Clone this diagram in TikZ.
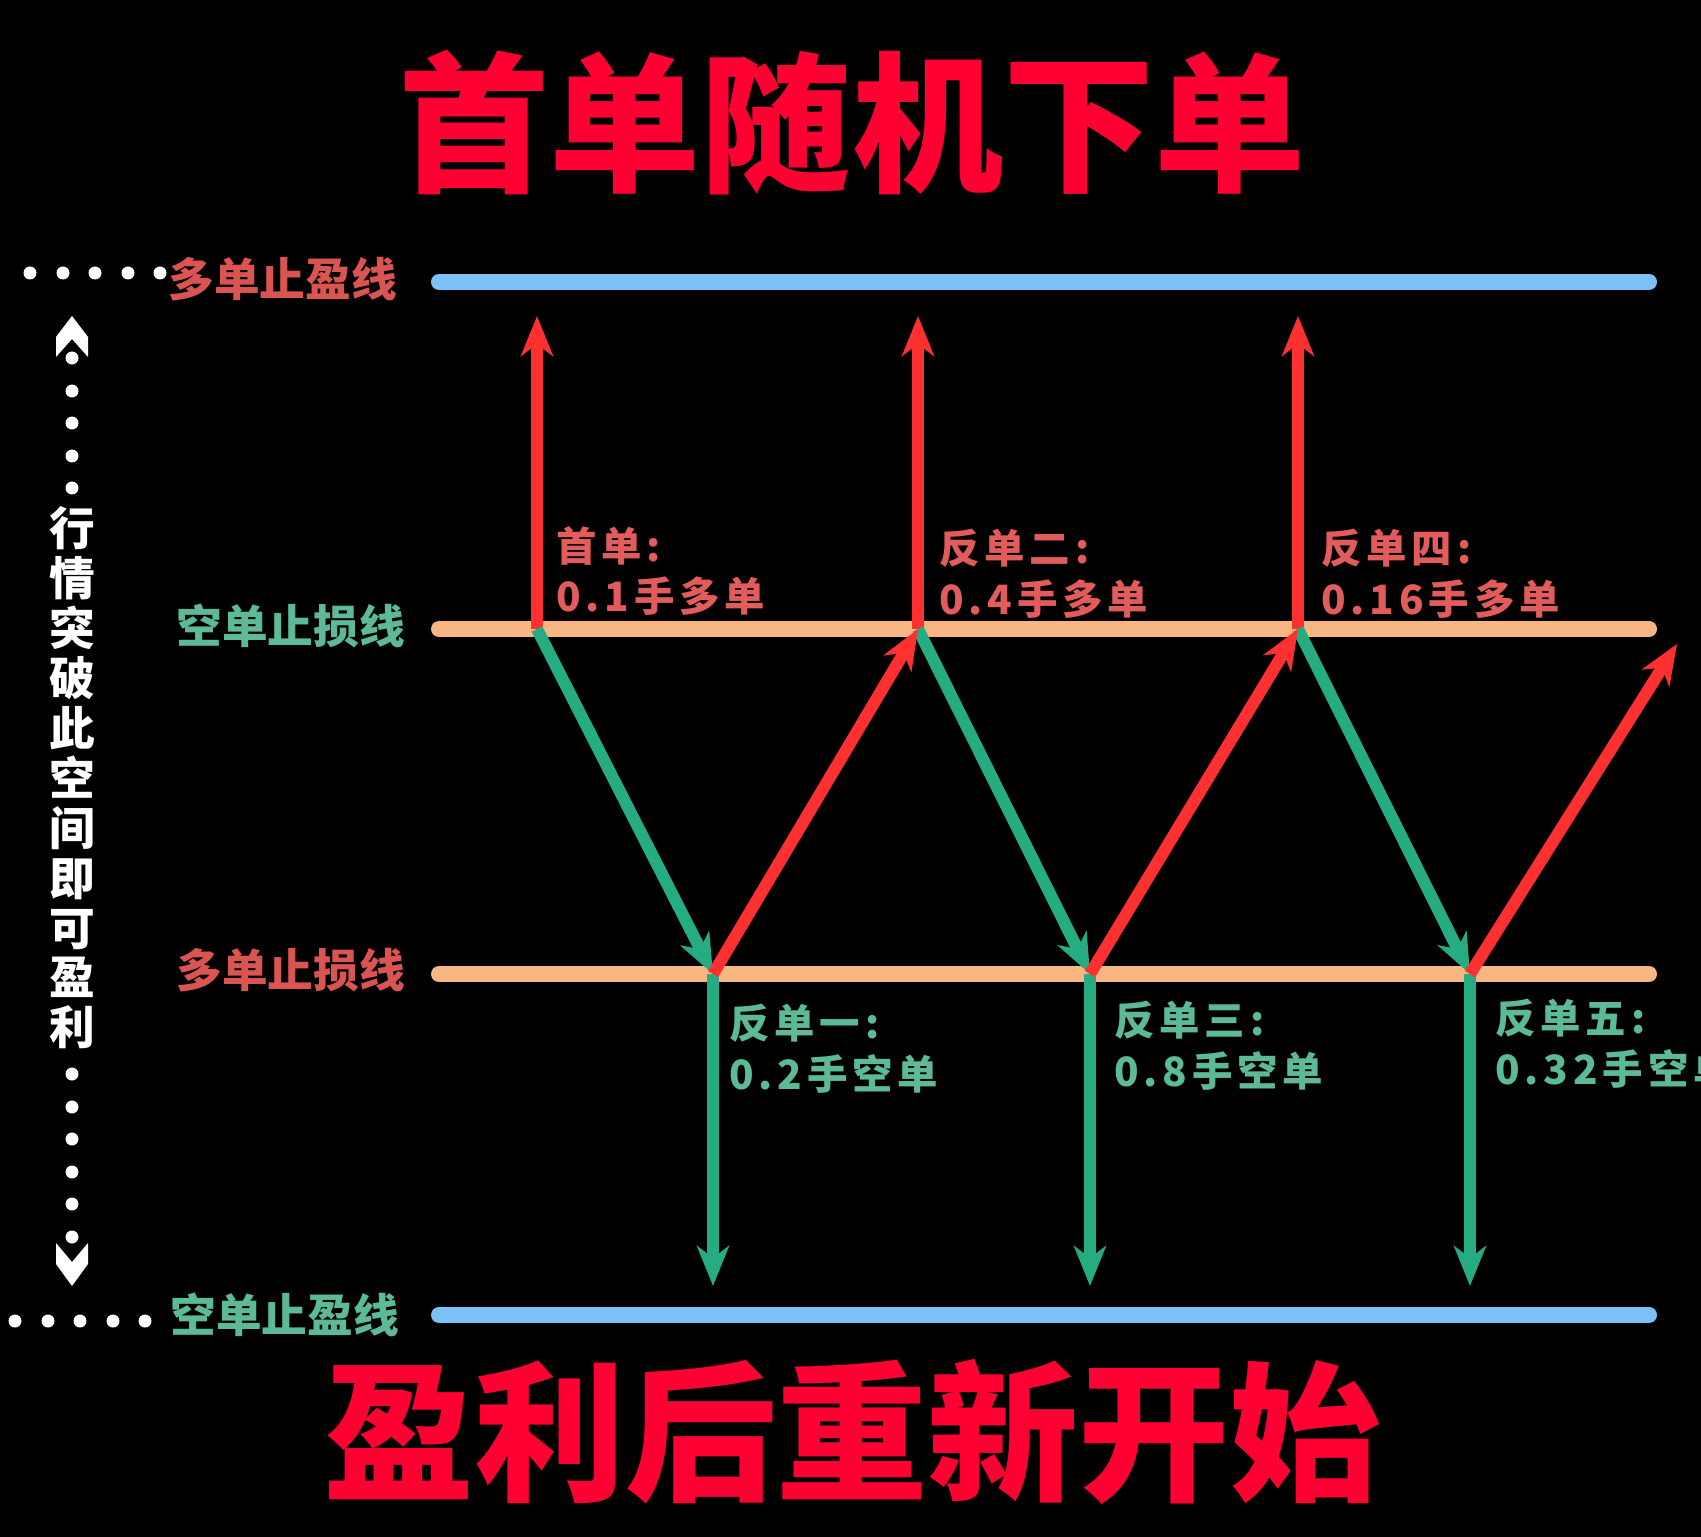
\documentclass[tikz,border=0pt]{standalone}
\usepackage{fontspec}
\newfontfamily\cjk{Noto Sans CJK SC}
\newfontfamily\cjkwide{Noto Sans CJK SC}[LetterSpace=12]
\usetikzlibrary{arrows.meta}
\definecolor{tpblue}{RGB}{124,192,248}
\definecolor{slorange}{RGB}{248,182,130}
\definecolor{longred}{RGB}{255,48,48}
\definecolor{shortgreen}{RGB}{38,172,130}
\definecolor{titlered}{RGB}{255,0,51}
\definecolor{lblred}{RGB}{218,84,82}
\definecolor{lblgreen}{RGB}{92,186,150}
\definecolor{ordred}{RGB}{226,92,92}

\begin{document}
\begin{tikzpicture}[x=0.02cm,y=-0.02cm,
    level/.style={line width=0.32cm,line cap=round},
    longarr/.style={draw=longred,line width=0.24cm,-{Stealth[length=0.8cm,width=0.64cm,inset=0.24cm]}},
    shortarr/.style={draw=shortgreen,line width=0.24cm,-{Stealth[length=0.8cm,width=0.64cm,inset=0.24cm]}},
    title/.style={text=titlered,inner sep=0,font=\cjk\bfseries\fontsize{86}{90}\selectfont},
    linelbl/.style={anchor=west,inner sep=0,font=\cjk\bfseries\fontsize{26}{30}\selectfont},
    ordlbl/.style={anchor=west,inner sep=0,align=left,font=\cjkwide\bfseries\fontsize{23}{29}\selectfont}]
    \useasboundingbox (0,0) rectangle (1701,1537);
    \clip (0,0) rectangle (1701,1537);
    \fill[black] (0,0) rectangle (1701,1537);

    \node[title] (top) at (852,122) {首单随机下单};
    \node[title] (bottom) at (852,1432) {盈利后重新开始};

    \draw[level,tpblue] (439,282) -- (1649,282);
    \draw[level,slorange] (439,629) -- (1649,629);
    \draw[level,slorange] (439,974) -- (1649,974);
    \draw[level,tpblue] (439,1315) -- (1649,1315);

    \node[linelbl,text=lblred] (tpl) at (168,279) {多单止盈线};
    \node[linelbl,text=lblgreen] (sls) at (176,626) {空单止损线};
    \node[linelbl,text=lblred] (sll) at (176,970) {多单止损线};
    \node[linelbl,text=lblgreen] (tps) at (170,1315) {空单止盈线};

    \foreach \x in {30,63,95,128,160}
        \fill[white] (\x,273) circle (6.5);
    \foreach \x in {15,48,80,113,145}
        \fill[white] (\x,1321) circle (6.5);
    \foreach \y in {358,391,423,456,488,1074,1107,1139,1172,1204,1237}
        \fill[white] (72,\y) circle (6.5);
    \fill[white] (72,316) -- (88,337) -- (88,357) -- (72,339) -- (56,357) -- (56,337) -- cycle;
    \fill[white] (72,1286) -- (88,1264) -- (88,1243) -- (72,1262) -- (56,1243) -- (56,1264) -- cycle;
    \node[text=white,inner sep=0,align=center,font=\cjk\bfseries\fontsize{26}{28.4}\selectfont] (move) at (72,778)
        {行\\情\\突\\破\\此\\空\\间\\即\\可\\盈\\利};

    \coordinate (a1) at (537,629);
    \coordinate (a2) at (918,629);
    \coordinate (a3) at (1298,629);
    \coordinate (b1) at (713,974);
    \coordinate (b2) at (1090,974);
    \coordinate (b3) at (1470,974);
    \coordinate (c4) at (1677,644);

    \draw[longarr] (a1) -- (537,316);
    \draw[longarr] (a2) -- (918,316);
    \draw[longarr] (a3) -- (1298,316);
    \draw[shortarr] (b1) -- (713,1286);
    \draw[shortarr] (b2) -- (1090,1286);
    \draw[shortarr] (b3) -- (1470,1286);

    \draw[shortarr] (a1) -- (b1);
    \draw[shortarr] (a2) -- (b2);
    \draw[shortarr] (a3) -- (b3);
    \draw[longarr] (b1) -- (a2);
    \draw[longarr] (b2) -- (a3);
    \draw[longarr] (b3) -- (c4);

    \node[ordlbl,text=ordred] (o1) at (556,571) {首单:\\0.1手多单};
    \node[ordlbl,text=ordred] (o2) at (939,574) {反单二:\\0.4手多单};
    \node[ordlbl,text=ordred] (o4) at (1321,574) {反单四:\\0.16手多单};
    \node[ordlbl,text=lblgreen] (o3) at (729,1049) {反单一:\\0.2手空单};
    \node[ordlbl,text=lblgreen] (o5) at (1114,1046) {反单三:\\0.8手空单};
    \node[ordlbl,text=lblgreen] (o6) at (1495,1044) {反单五:\\0.32手空单};
\end{tikzpicture}
\end{document}
